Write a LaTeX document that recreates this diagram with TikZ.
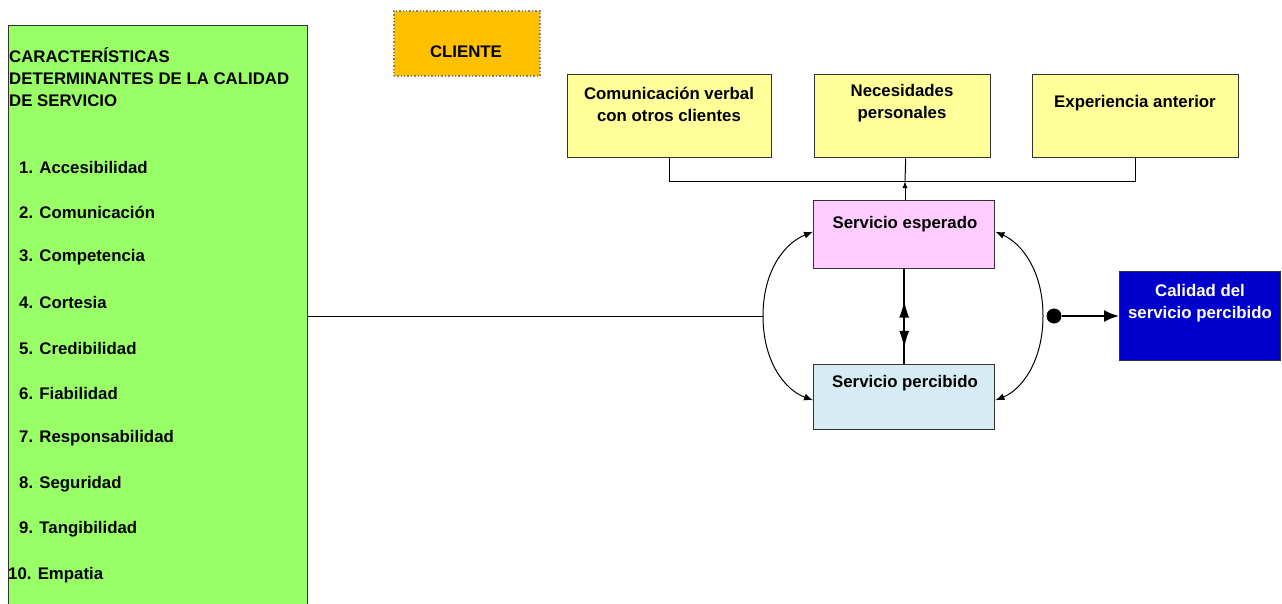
\documentclass[tikz,border=0pt]{standalone}
\usepackage{fontspec}
\setmainfont{Liberation Sans}
\usetikzlibrary{arrows.meta,decorations.markings}
\definecolor{cgreen}{HTML}{99FF66}
\definecolor{corange}{HTML}{FFC000}
\definecolor{cyellow}{HTML}{FFFF99}
\definecolor{cpink}{HTML}{FFCCFF}
\definecolor{clblue}{HTML}{D6EBF2}
\definecolor{cblue}{HTML}{0000CC}
\definecolor{cborder}{HTML}{333333}
\tikzset{
  boxbase/.style={draw=cborder, line width=1.4pt, inner sep=0, anchor=north west},
  txt/.style={font=\bfseries\fontsize{16.8}{22}\selectfont, inner sep=0, align=center},
  lst/.style={font=\bfseries\fontsize{16.8}{22}\selectfont, inner sep=0, anchor=west},
  conn/.style={line width=1pt, draw=black},
  tipr/.style={-{Latex[length=9pt,width=7pt]}},
}
\begin{document}
\begin{tikzpicture}[x=1pt,y=-1pt]
\useasboundingbox (0,0) rectangle (1282,603);
\begin{scope}
\clip (0,0) rectangle (1282,603);
% green panel
\node[boxbase, fill=cgreen, minimum width=299, minimum height=600] (green) at (8,25) {};
\end{scope}
\node[lst, align=left] (title) at (9,77) {CARACTERÍSTICAS\\DETERMINANTES DE LA CALIDAD\\DE SERVICIO};
\node[lst] (i1) at (19,167) {1. Accesibilidad};
\node[lst] (i2) at (19,212) {2. Comunicación};
\node[lst] (i3) at (19,257) {3. Competencia};
\node[lst] (i4) at (19,302) {4. Cortesia};
\node[lst] (i5) at (19,348) {5. Credibilidad};
\node[lst] (i6) at (19,393) {6. Fiabilidad};
\node[lst] (i7) at (19,438) {7. Responsabilidad};
\node[lst] (i8) at (19,484) {8. Seguridad};
\node[lst] (i9) at (19,529) {9. Tangibilidad};
\node[lst] (i10) at (8,575) {10. Empatia};
% cliente
\node[boxbase, draw=gray, dotted, line width=1.5pt, fill=corange, minimum width=146, minimum height=65] (cliente) at (393,10) {};
\node[txt] (clientet) at (466,52) {CLIENTE};
% yellow boxes
\node[boxbase, fill=cyellow, minimum width=204, minimum height=83] (c1) at (567,74) {};
\node[txt] (c1t) at (669,104) {Comunicación verbal\\con otros clientes};
\node[boxbase, fill=cyellow, minimum width=176, minimum height=83] (c2) at (814,74) {};
\node[txt] (c2t) at (902,103) {Necesidades\\personales};
\node[boxbase, fill=cyellow, minimum width=206, minimum height=83] (c3) at (1032,74) {};
\node[txt] (c3t) at (1135,103) {Experiencia anterior};
% servicio boxes
\node[boxbase, fill=cpink, minimum width=181, minimum height=68] (se) at (813,200) {};
\node[txt] (set) at (905,224) {Servicio esperado};
\node[boxbase, fill=clblue, minimum width=181, minimum height=65] (sp) at (813,364) {};
\node[txt] (spt) at (905,383) {Servicio percibido};
% calidad
\node[boxbase, fill=cblue, minimum width=161, minimum height=89] (cal) at (1119,271) {};
\node[txt, text=white] (calt) at (1200,303) {Calidad del\\servicio percibido};
% bracket connectors
\coordinate (jn) at (905,181);
\draw[conn] (c1.south) |- (jn);
\draw[conn] (c3.south) |- (jn);
\draw[conn] ([xshift=3pt]c2.south) -- (jn);
\draw[conn, -{Latex[length=7pt,width=5pt]}] (se.north -| jn) -- (jn);
% middle double arrow
\draw[line width=2.5pt, postaction={decorate}, decoration={markings,
  mark=at position 0.32 with {\arrowreversed{Latex[length=18pt,width=10pt]}},
  mark=at position 0.84 with {\arrow{Latex[length=18pt,width=10pt]}}}]
  (se.south) -- (sp.north);
% left arc
\coordinate (lj) at (763,316);
\draw[conn] (green.east |- lj) -- (lj);
\draw[conn, tipr] (lj) .. controls (763,270) and (785,243) .. ([yshift=3pt]se.west);
\draw[conn, tipr] (lj) .. controls (763,362) and (785,390) .. ([yshift=-3pt]sp.west);
% right arc
\coordinate (rj) at (1043,316);
\draw[conn, tipr] (rj) .. controls (1043,270) and (1021,243) .. ([yshift=3pt]se.east);
\draw[conn, tipr] (rj) .. controls (1043,362) and (1021,390) .. ([yshift=-3pt]sp.east);
% dot and arrow to calidad
\node[circle, fill=black, inner sep=0, minimum size=15pt] (dot) at (1054,316) {};
\draw[line width=2pt, -{Latex[length=15pt,width=12pt]}] (dot) -- (cal.west |- dot);
\end{tikzpicture}
\end{document}
